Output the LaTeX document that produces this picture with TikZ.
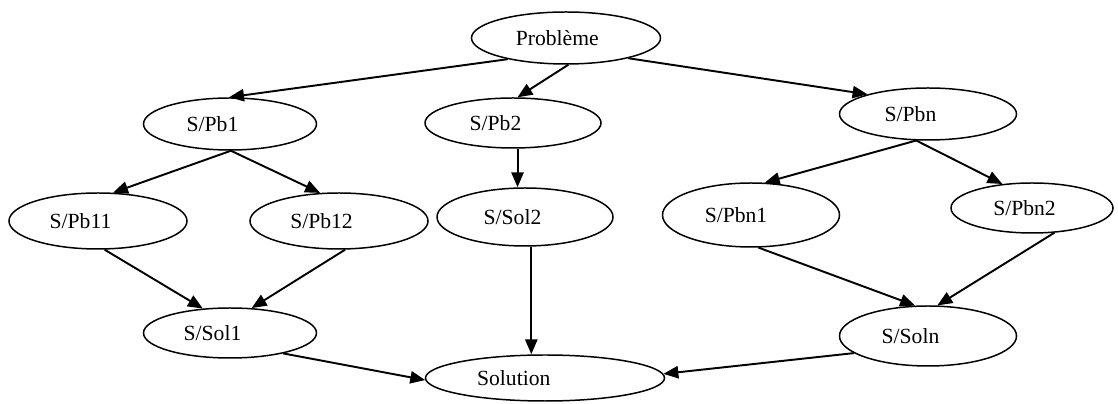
\documentclass[tikz,border=0pt]{standalone}
\usepackage{fontspec}
\setmainfont{Liberation Serif}
\usetikzlibrary{arrows.meta,shapes.geometric}

\begin{document}
\begin{tikzpicture}[x=0.02cm, y=-0.02cm, ->, >={Triangle[length=8.5pt,width=7pt]},
     line width=1.1pt, font=\fontsize{12.3}{14}\selectfont,
     pb/.style={draw, ellipse, line width=0.85pt, inner sep=0pt, execute at end node={\hspace*{#1}}},
     pb/.default=0.7cm,
     wh/.style 2 args={minimum width=#1*0.02cm, minimum height=#2*0.02cm}]
    \useasboundingbox (0,0) rectangle (1118,404);
    \node[pb=0.35cm, wh={189}{52}] (prob) at (566, 38) {Problème};
    \node[pb, wh={173}{52}] (pb1) at (230, 124) {S/Pb1};
    \node[pb, wh={176}{50}] (pb2) at (513, 123) {S/Pb2};
    \node[pb, wh={177}{52}] (pbn) at (928, 114) {S/Pbn};
    \node[pb, wh={178}{56}] (pb11) at (98, 221) {S/Pb11};
    \node[pb, wh={178}{56}] (pb12) at (339, 221) {S/Pb12};
    \node[pb=0.5cm, wh={176}{58}] (sol2) at (525, 217) {S/Sol2};
    \node[pb=0.6cm, wh={177}{64}] (pbn1) at (751, 215) {S/Pbn1};
    \node[pb=0.3cm, wh={162}{50}] (pbn2) at (1032, 208) {S/Pbn2};
    \node[pb, wh={173}{50}] (sol1) at (230, 333) {S/Sol1};
    \node[pb, wh={177}{60}] (soln) at (928, 336) {S/Soln};
    \node[pb=1.25cm, wh={239}{46}] (solution) at (545, 378) {Solution};
    % decomposition
    \path (prob.200) edge (pb1.92);
    \path (prob.275) edge (pb2.80);
    \path (prob.342) edge (pbn.162);
    \path (pb1.272) edge (pb11.62);
    \path (pb1.272) edge (pb12.124);
    \path (pb2.-80) edge (pb2.-80 |- sol2.north);
    \path (pbn.246) edge (pbn1.67);
    \path (pbn.246) edge (pbn2.141);
    % recomposition
    \path (pb11.283) edge (sol1.138);
    \path (pb12.282) edge (sol1.49);
    \path (pbn1.283) edge (soln.113);
    \path (pbn2.312) edge (soln.73);
    \path (sol2.282) edge (sol2.282 |- solution.north);
    \path (sol1.339) edge (solution.181);
    \path (soln.193) edge (solution.2);
\end{tikzpicture}
\end{document}
